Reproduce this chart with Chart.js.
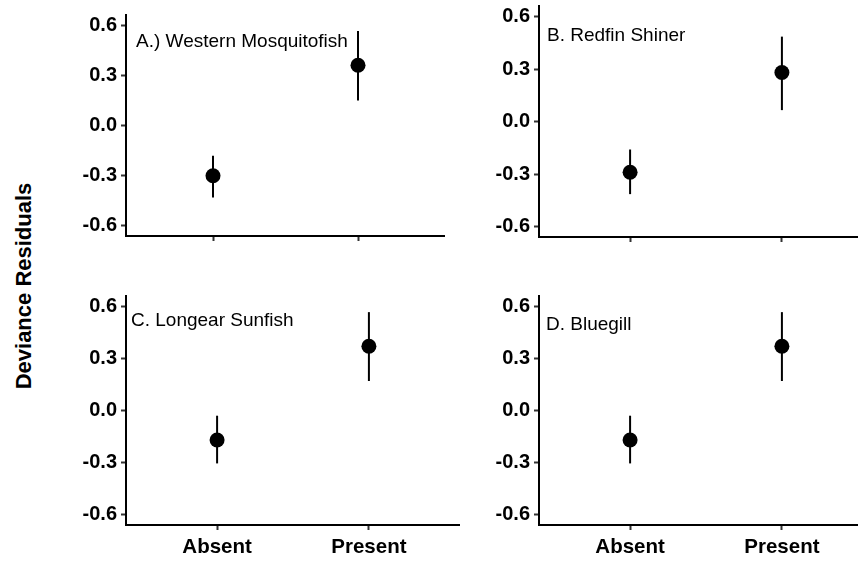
<!DOCTYPE html>
<html>
<head>
<meta charset="utf-8">
<script src="https://cdn.jsdelivr.net/npm/chart.js@4.4.1/dist/chart.umd.min.js"></script>
<style>
  html, body { margin: 0; padding: 0; background: #fff; overflow: hidden; }
  #wrap { position: relative; width: 858px; height: 561px; overflow: hidden; }
  canvas { position: absolute; }
  .panel-label {
    position: absolute;
    font-family: "Liberation Sans", Arial, sans-serif;
    font-size: 19px;
    line-height: 20px;
    color: #000;
    white-space: nowrap;
  }
  #ytitle {
    position: absolute;
    left: 24px;
    top: 286px;
    transform: translate(-50%, -50%) rotate(-90deg);
    font-family: "Liberation Sans", Arial, sans-serif;
    font-weight: bold;
    font-size: 22px;
    white-space: nowrap;
  }
</style>
</head>
<body>
<div id="wrap">
  <canvas id="panelA"></canvas>
  <canvas id="panelB"></canvas>
  <canvas id="panelC"></canvas>
  <canvas id="panelD"></canvas>
  <div id="ytitle">Deviance Residuals</div>
  <div class="panel-label" id="labelA"></div>
  <div class="panel-label" id="labelB"></div>
  <div class="panel-label" id="labelC"></div>
  <div class="panel-label" id="labelD"></div>
</div>
<script>
// Data
const categories = ["Absent", "Present"];
const yTicks = [-0.6, -0.3, 0.0, 0.3, 0.6];
const panelTitles = ["A.) Western Mosquitofish", "B. Redfin Shiner", "C. Longear Sunfish", "D. Bluegill"];

const meanA = [-0.30, 0.36];
const lowA = [-0.43, 0.15];
const highA = [-0.18, 0.565];

const meanB = [-0.29, 0.28];
const lowB = [-0.415, 0.065];
const highB = [-0.16, 0.485];

const meanC = [-0.17, 0.37];
const lowC = [-0.305, 0.17];
const highC = [-0.03, 0.567];

const meanD = [-0.17, 0.37];
const lowD = [-0.305, 0.17];
const highD = [-0.03, 0.567];

const FONT = "'Liberation Sans', Arial, sans-serif";

function makePanel(id, mean, low, high, box) {
  // box: canvas position + where the plot area should sit inside it
  const canvas = document.getElementById(id);
  canvas.width = box.width;
  canvas.height = box.height;
  canvas.style.left = box.left + "px";
  canvas.style.top = box.top + "px";

  const datasets = [
    {
      label: "mean",
      data: mean.map((v, i) => ({ x: i + 1, y: v })),
      showLine: false,
      pointRadius: 7.5,
      pointHoverRadius: 7.5,
      pointBackgroundColor: "#000",
      pointBorderColor: "#000",
      pointBorderWidth: 0,
      order: 0,
    },
  ];
  categories.forEach((c, i) => {
    datasets.push({
      label: c + " error",
      data: [
        { x: i + 1, y: low[i] },
        { x: i + 1, y: high[i] },
      ],
      showLine: true,
      borderColor: "#000",
      borderWidth: 2,
      pointRadius: 0,
      order: 1,
    });
  });

  return new Chart(canvas, {
    type: "scatter",
    data: { datasets: datasets },
    options: {
      responsive: false,
      animation: false,
      events: [],
      layout: {
        autoPadding: false,
        padding: { top: box.padTop, right: 0, left: 0, bottom: 0 },
      },
      plugins: { legend: { display: false }, tooltip: { enabled: false } },
      scales: {
        x: {
          type: "linear",
          min: 0.4,
          max: 2.6,
          afterBuildTicks: (scale) => {
            scale.ticks = categories.map((c, i) => ({ value: i + 1 }));
          },
          afterFit: (scale) => {
            scale.height = box.xHeight;
          },
          grid: {
            drawOnChartArea: false,
            drawTicks: true,
            tickLength: 5,
            tickWidth: 2,
            tickColor: "#333",
          },
          border: { display: true, color: "#000", width: 2 },
          ticks: {
            display: box.showX,
            color: "#000",
            padding: 5,
            maxRotation: 0,
            font: { family: FONT, size: 20.5, weight: "bold" },
            callback: (v) => categories[Math.round(v) - 1] || "",
          },
        },
        y: {
          type: "linear",
          min: -0.66,
          max: 0.66,
          afterBuildTicks: (scale) => {
            scale.ticks = yTicks.map((v) => ({ value: v }));
          },
          afterFit: (scale) => {
            scale.width = box.yWidth;
          },
          grid: {
            drawOnChartArea: false,
            drawTicks: true,
            tickLength: 5,
            tickWidth: 2,
            tickColor: "#333",
          },
          border: { display: true, color: "#000", width: 2 },
          ticks: {
            color: "#000",
            padding: 4,
            font: { family: FONT, size: 20, weight: "bold" },
            callback: (v) => Number(v).toFixed(1),
          },
        },
      },
    },
  });
}

// Panel A: plot area x 126..445, y 15..236
makePanel("panelA", meanA, lowA, highA, {
  left: 56, top: -10, width: 389, height: 263,
  yWidth: 70, padTop: 25, xHeight: 17, showX: false,
});
// Panel B: plot area x 539..873, y 6..237
makePanel("panelB", meanB, lowB, highB, {
  left: 469, top: -10, width: 404, height: 264,
  yWidth: 70, padTop: 16, xHeight: 17, showX: false,
});
// Panel C: plot area x 126..460, y 295..525
makePanel("panelC", meanC, lowC, highC, {
  left: 56, top: 280, width: 404, height: 281,
  yWidth: 70, padTop: 15, xHeight: 36, showX: true,
});
// Panel D: plot area x 539..873, y 295..525
makePanel("panelD", meanD, lowD, highD, {
  left: 469, top: 280, width: 404, height: 281,
  yWidth: 70, padTop: 15, xHeight: 36, showX: true,
});

// Panel annotations
const labelPos = [
  { id: "labelA", left: 136, top: 31 },
  { id: "labelB", left: 547, top: 25 },
  { id: "labelC", left: 131, top: 310 },
  { id: "labelD", left: 546, top: 314 },
];
labelPos.forEach((p, i) => {
  const el = document.getElementById(p.id);
  el.textContent = panelTitles[i];
  el.style.left = p.left + "px";
  el.style.top = p.top + "px";
});
</script>
</body>
</html>
